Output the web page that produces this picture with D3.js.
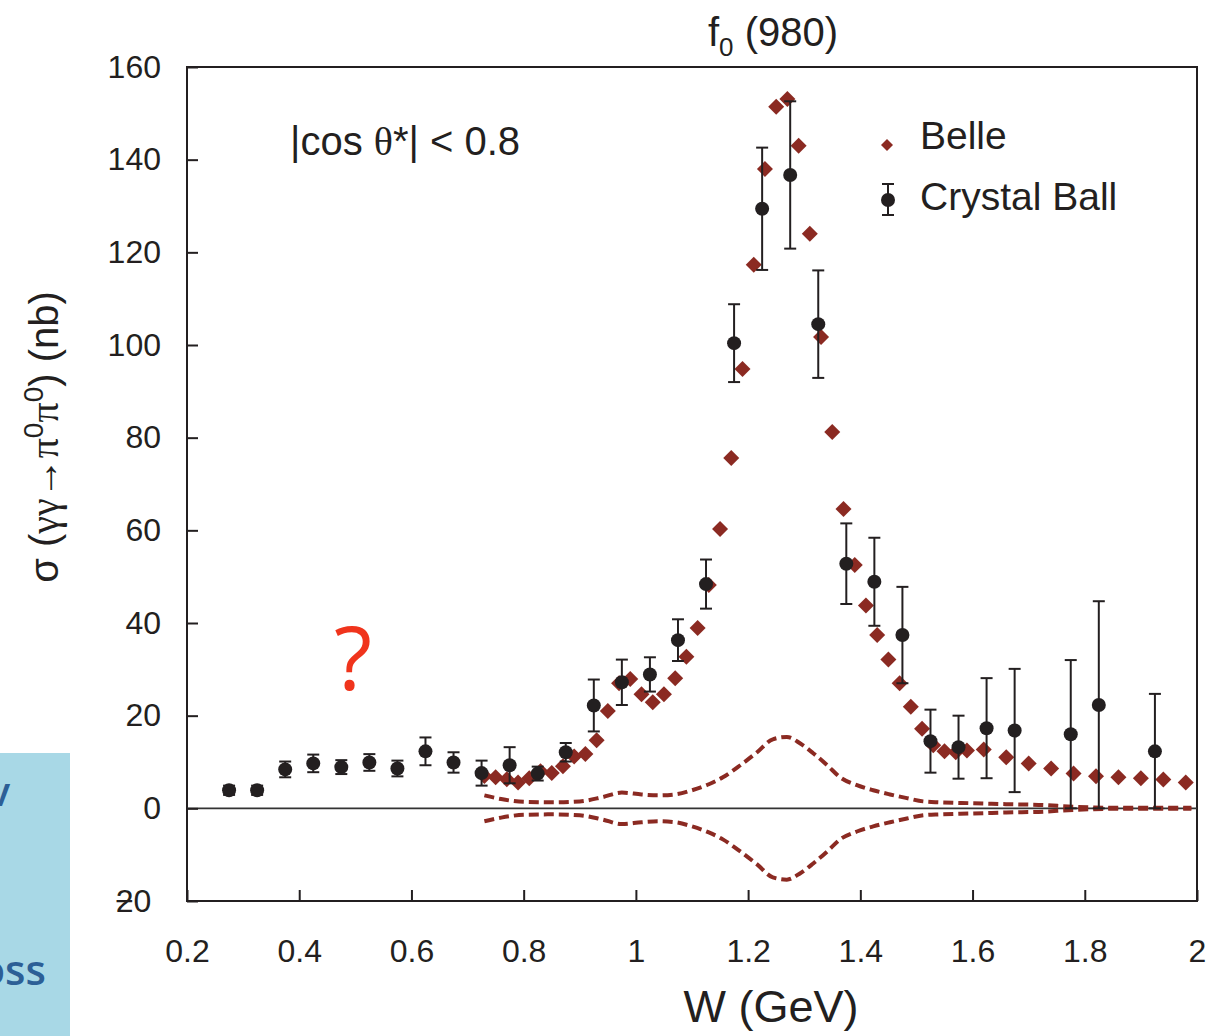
<!DOCTYPE html>
<html>
<head>
<meta charset="utf-8">
<script src="https://cdn.jsdelivr.net/npm/d3@7"></script>
<style>
  body { margin: 0; background: #fff; }
  svg { display: block; }
  text { font-family: "Liberation Sans", Arial, sans-serif; fill: #231f20; }
</style>
</head>
<body>
<div id="viz"></div>
<script>
//DATA: Crystal Ball points (W in GeV, cross section in nb, error)
const cbW = [0.275, 0.325, 0.375, 0.425, 0.475, 0.525, 0.575, 0.625, 0.675, 0.725, 0.775, 0.825,
  0.875, 0.925, 0.975, 1.025, 1.075, 1.125, 1.175, 1.225, 1.275, 1.325, 1.375, 1.425, 1.475,
  1.525, 1.575, 1.625, 1.675, 1.775, 1.825, 1.925];
const cbSigma = [3.9, 3.9, 8.4, 9.7, 8.9, 9.9, 8.6, 12.3, 9.9, 7.6, 9.3, 7.5,
  12.1, 22.2, 27.2, 28.9, 36.3, 48.4, 100.4, 129.4, 136.7, 104.5, 52.8, 48.9, 37.4,
  14.5, 13.2, 17.3, 16.8, 16.0, 22.3, 12.3];
const cbErr = [1.0, 1.0, 1.7, 1.9, 1.5, 1.8, 1.7, 3.0, 2.2, 2.7, 3.9, 1.5,
  2.0, 5.6, 4.9, 3.7, 4.5, 5.3, 8.4, 13.2, 15.9, 11.6, 8.7, 9.5, 10.4,
  6.8, 6.8, 10.8, 13.3, 16.0, 22.4, 12.4];

//DATA: Belle points
const belleW = [0.73, 0.75, 0.77, 0.79, 0.81, 0.83, 0.85, 0.87, 0.89, 0.91, 0.93, 0.95, 0.97, 0.99,
  1.01, 1.03, 1.05, 1.07, 1.09, 1.11, 1.13, 1.15, 1.17, 1.19, 1.21, 1.23, 1.25, 1.27, 1.29,
  1.31, 1.33, 1.35, 1.37, 1.39, 1.41, 1.43, 1.45, 1.47, 1.49, 1.51, 1.53, 1.55, 1.57, 1.59,
  1.62, 1.66, 1.70, 1.74, 1.78, 1.82, 1.86, 1.90, 1.94, 1.98];
const belleSigma = [7.0, 6.7, 6.3, 5.6, 6.5, 8.0, 7.6, 9.1, 11.2, 11.7, 14.7, 21.0, 27.0, 27.9,
  24.6, 22.9, 24.6, 28.1, 32.7, 38.9, 48.2, 60.3, 75.6, 94.8, 117.3, 138.0, 151.4, 153.1, 143.0,
  124.0, 101.7, 81.2, 64.6, 52.5, 43.8, 37.4, 32.1, 27.0, 21.9, 17.2, 13.6, 12.3, 12.1, 12.5,
  12.7, 11.0, 9.7, 8.6, 7.5, 6.9, 6.7, 6.5, 6.2, 5.6];

//DATA: dashed band (upper edge, the lower edge is its mirror)
const bandW = [0.73, 0.76, 0.80, 0.85, 0.90, 0.94, 0.975, 1.01, 1.04, 1.07, 1.10, 1.13, 1.155,
  1.186, 1.216, 1.244, 1.269, 1.293, 1.316, 1.341, 1.364, 1.394, 1.423, 1.453, 1.483, 1.512,
  1.542, 1.60, 1.66, 1.73, 1.77, 1.81, 1.85, 1.99];
const bandSigma = [2.8, 2.0, 1.4, 1.3, 1.5, 2.4, 3.4, 3.0, 2.8, 3.0, 3.9, 5.2, 6.7,
  9.3, 12.1, 14.9, 15.4, 14.0, 11.9, 9.3, 6.7, 5.0, 3.9, 3.0, 2.2, 1.5,
  1.3, 1.1, 0.9, 0.7, 0.4, 0.2, 0.1, 0.1];

const xTicks = [0.2, 0.4, 0.6, 0.8, 1, 1.2, 1.4, 1.6, 1.8, 2];
const yTicks = [-20, 0, 20, 40, 60, 80, 100, 120, 140, 160];

const red = "#8b2a22";
const ink = "#231f20";

//CANVAS SETUP
const svg = d3.select("#viz")
  .append("svg")
  .attr("width", 1216)
  .attr("height", 1036);

//the light blue slide box peeking in at the bottom left
svg.append("rect")
  .attr("x", 0).attr("y", 753)
  .attr("width", 70).attr("height", 283)
  .attr("fill", "#a8d8e6");
const clip = svg.append("clipPath").attr("id", "boxClip");
clip.append("rect").attr("x", 0).attr("y", 753).attr("width", 70).attr("height", 283);
const boxText = svg.append("g").attr("clip-path", "url(#boxClip)");
boxText.append("text")
  .attr("x", 10).attr("y", 806)
  .attr("text-anchor", "end")
  .style("font-family", "'Open Sans', sans-serif")
  .style("font-weight", "600")
  .style("font-size", "40px")
  .style("fill", "#2c5f96")
  .text("v");
boxText.append("text")
  .attr("x", 46).attr("y", 985)
  .attr("text-anchor", "end")
  .style("font-family", "'Open Sans', sans-serif")
  .style("font-weight", "600")
  .style("font-size", "42px")
  .style("fill", "#2c5f96")
  .text("Cross");

//SCALES
const x = d3.scaleLinear().domain([0.2, 2]).range([187, 1197]);
const y = d3.scaleLinear().domain([-20, 160]).range([901, 67]);

//frame
svg.append("rect")
  .attr("x", x(0.2)).attr("y", y(160))
  .attr("width", x(2) - x(0.2)).attr("height", y(-20) - y(160))
  .attr("fill", "none")
  .attr("stroke", ink)
  .attr("stroke-width", 2);

//zero line
svg.append("line")
  .attr("x1", x(0.2)).attr("x2", x(2))
  .attr("y1", y(0)).attr("y2", y(0))
  .attr("stroke", "#333")
  .attr("stroke-width", 1.6);

//AXES (ticks point inward)
const xAxis = svg.append("g")
  .attr("transform", `translate(0,${y(-20)})`)
  .call(d3.axisBottom(x).tickValues(xTicks).tickSizeInner(-11).tickSizeOuter(0).tickPadding(38)
    .tickFormat(d => d3.format("")(d)));
const yAxis = svg.append("g")
  .attr("transform", `translate(${x(0.2)},0)`)
  .call(d3.axisLeft(y).tickValues(yTicks).tickSizeInner(-11).tickSizeOuter(0).tickPadding(26));

[xAxis, yAxis].forEach(g => {
  g.select(".domain").remove();
  g.selectAll(".tick line").attr("stroke", ink).attr("stroke-width", 2);
  g.selectAll(".tick text")
    .attr("fill", ink)
    .style("font-family", "'Liberation Sans', Arial, sans-serif")
    .style("font-size", "32px");
});

//the -20 label has its minus sign sitting on top of the 2
yAxis.selectAll(".tick text").filter(d => d === -20)
  .attr("text-anchor", "start")
  .attr("x", -72)
  .text(null)
  .call(t => {
    t.append("tspan").text("\u2212");
    t.append("tspan").attr("dx", -18).text("20");
  });

//DASHED BAND
const bandLine = d3.line()
  .x(d => x(d[0]))
  .y(d => y(d[1]))
  .curve(d3.curveMonotoneX);
const upper = bandW.map((w, i) => [w, bandSigma[i]]);
const lower = bandW.map((w, i) => [w, -bandSigma[i]]);
[upper, lower].forEach(pts => {
  svg.append("path")
    .attr("d", bandLine(pts))
    .attr("fill", "none")
    .attr("stroke", red)
    .attr("stroke-width", 4)
    .attr("stroke-dasharray", "10,5");
});

//BELLE diamonds
const diamond = "M0,-8 L8,0 L0,8 L-8,0 Z";
svg.selectAll("path.belle")
  .data(belleW)
  .enter()
  .append("path")
  .attr("class", "belle")
  .attr("d", diamond)
  .attr("fill", red)
  .attr("transform", (d, i) => `translate(${x(d)},${y(belleSigma[i])})`);

//CRYSTAL BALL points with error bars
const cb = cbW.map((w, i) => ({w: w, s: cbSigma[i], e: cbErr[i]}));
const cbG = svg.selectAll("g.cb")
  .data(cb)
  .enter()
  .append("g")
  .attr("class", "cb");
cbG.append("line")
  .attr("x1", d => x(d.w)).attr("x2", d => x(d.w))
  .attr("y1", d => y(d.s + d.e)).attr("y2", d => y(Math.max(0, d.s - d.e)))
  .attr("stroke", ink).attr("stroke-width", 2);
cbG.append("line")
  .attr("x1", d => x(d.w) - 6).attr("x2", d => x(d.w) + 6)
  .attr("y1", d => y(d.s + d.e)).attr("y2", d => y(d.s + d.e))
  .attr("stroke", ink).attr("stroke-width", 2);
cbG.append("line")
  .attr("x1", d => x(d.w) - 6).attr("x2", d => x(d.w) + 6)
  .attr("y1", d => y(Math.max(0, d.s - d.e))).attr("y2", d => y(Math.max(0, d.s - d.e)))
  .attr("stroke", ink).attr("stroke-width", 2);
cbG.append("circle")
  .attr("cx", d => x(d.w)).attr("cy", d => y(d.s))
  .attr("r", 7)
  .attr("fill", ink);

//LEGEND
svg.append("path")
  .attr("d", "M0,-6 L6,0 L0,6 L-6,0 Z")
  .attr("fill", red)
  .attr("transform", "translate(887,145)");
svg.append("text")
  .attr("x", 920).attr("y", 149)
  .style("font-size", "39px")
  .text("Belle");
svg.append("line").attr("x1", 888).attr("x2", 888).attr("y1", 184).attr("y2", 215)
  .attr("stroke", ink).attr("stroke-width", 2);
svg.append("line").attr("x1", 882).attr("x2", 894).attr("y1", 184).attr("y2", 184)
  .attr("stroke", ink).attr("stroke-width", 2);
svg.append("line").attr("x1", 882).attr("x2", 894).attr("y1", 215).attr("y2", 215)
  .attr("stroke", ink).attr("stroke-width", 2);
svg.append("circle").attr("cx", 888).attr("cy", 200).attr("r", 7).attr("fill", ink);
svg.append("text")
  .attr("x", 920).attr("y", 210)
  .style("font-size", "39px")
  .text("Crystal Ball");

//cut label
const cut = svg.append("text")
  .attr("x", 290).attr("y", 155)
  .style("font-size", "40px");
cut.append("tspan").text("|cos ");
cut.append("tspan").style("font-family", "'Liberation Serif', serif").text("\u03b8");
cut.append("tspan").text("*| < 0.8");

//TITLE
const title = svg.append("text")
  .attr("x", 773).attr("y", 46)
  .attr("text-anchor", "middle")
  .style("font-size", "40px");
title.append("tspan").text("f");
title.append("tspan").attr("dy", 10).style("font-size", "26px").text("0");
title.append("tspan").attr("dy", -10).text(" (980)");

//X LABEL
svg.append("text")
  .attr("x", 771).attr("y", 1022)
  .attr("text-anchor", "middle")
  .style("font-size", "45px")
  .text("W (GeV)");

//Y LABEL
const yl = svg.append("text")
  .attr("transform", "translate(58,437) rotate(-90)")
  .attr("text-anchor", "middle")
  .style("font-size", "40px");
yl.append("tspan").text("\u03c3 (");
yl.append("tspan").style("font-family", "'Liberation Serif', serif").text("\u03b3\u03b3");
yl.append("tspan").style("font-weight", "bold").text("\u2192");
yl.append("tspan").style("font-family", "'Liberation Serif', serif").text("\u03c0");
yl.append("tspan").attr("dy", -15).style("font-size", "28px").text("0");
yl.append("tspan").attr("dy", 15).style("font-family", "'Liberation Serif', serif").text("\u03c0");
yl.append("tspan").attr("dy", -15).style("font-size", "28px").text("0");
yl.append("tspan").attr("dy", 15).text(") (nb)");

//question mark
svg.append("text")
  .attr("x", 353).attr("y", 690)
  .attr("text-anchor", "middle")
  .style("font-family", "'Open Sans', sans-serif")
  .style("font-size", "88px")
  .style("fill", "#f0341c")
  .text("?");
</script>
</body>
</html>
